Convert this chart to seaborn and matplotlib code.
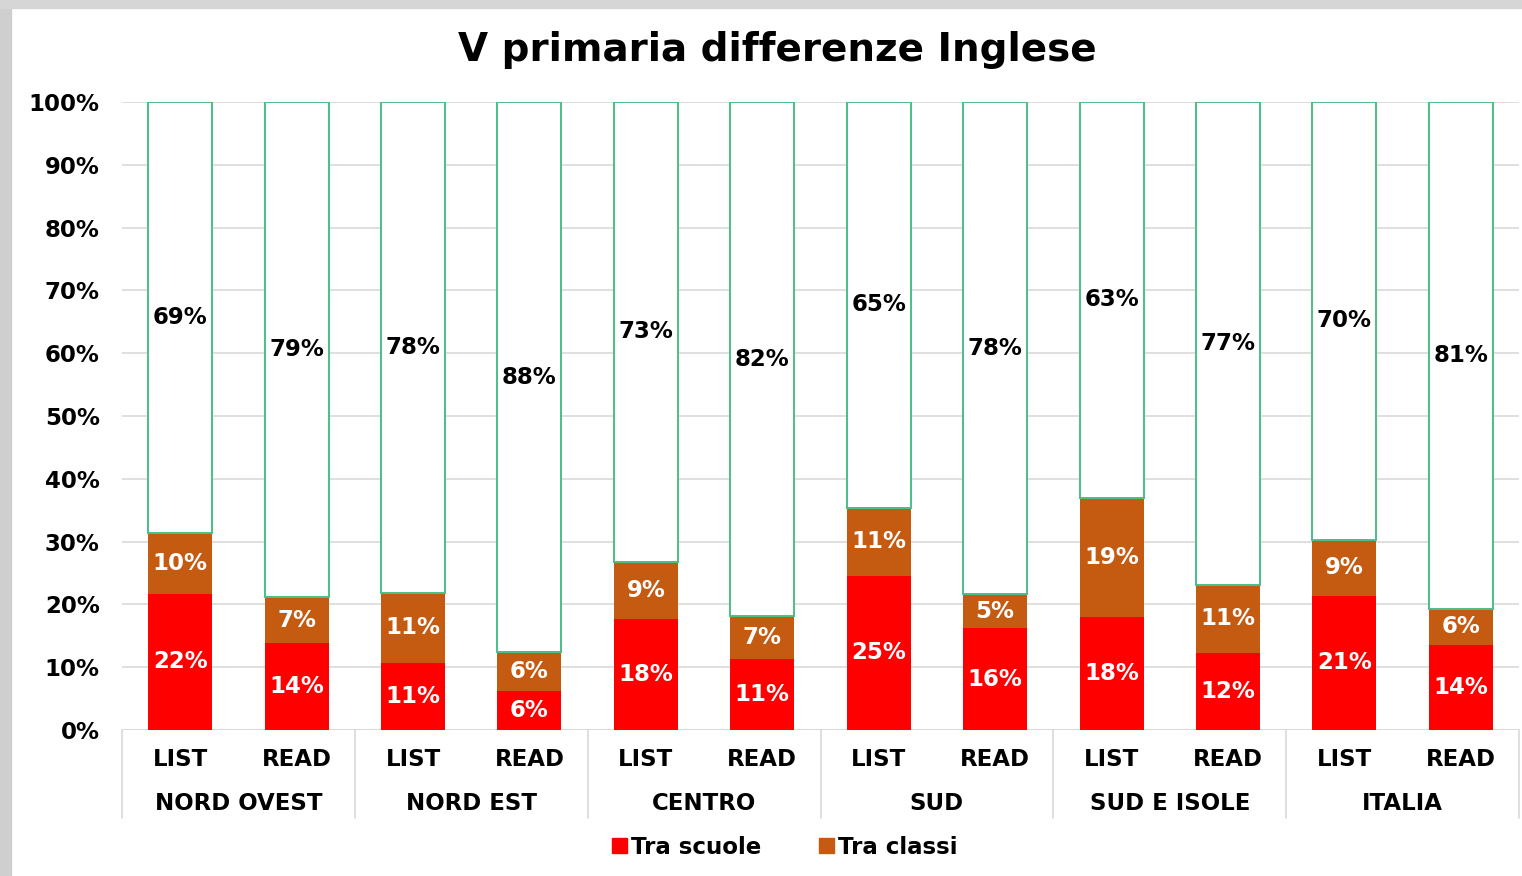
import numpy as np
import pandas as pd
import matplotlib
matplotlib.use("Agg")
import matplotlib.pyplot as plt
from matplotlib.patches import Patch, Rectangle
import seaborn as sns

# Data (% of variance)
regions = ["NORD OVEST", "NORD EST", "CENTRO", "SUD", "SUD E ISOLE", "ITALIA"]
tests = ["LIST", "READ"]
tra_scuole = [21.7, 13.9, 10.7, 6.2, 17.6, 11.3, 24.6, 16.2, 18.0, 12.3, 21.4, 13.6]
tra_classi = [9.6, 7.2, 11.1, 6.2, 9.2, 6.8, 10.8, 5.4, 19.0, 10.8, 8.9, 5.7]

keys = [f"{r}|{t}" for r in regions for t in tests]
base = np.array(tra_scuole)
mid = np.array(tra_classi)
dentro = 100 - base - mid

df = pd.DataFrame({"key": keys, "scuole": base, "classi": mid, "dentro": dentro})

sns.set_style("white")
plt.rcParams["font.family"] = ["DejaVu Sans"]
plt.rcParams["font.weight"] = "bold"
plt.rcParams["text.color"] = "black"
plt.rcParams["ytick.color"] = "black"
plt.rcParams["ytick.labelcolor"] = "black"

RED = "#FF0000"
BROWN = "#C55A11"
GREEN = "#4CBF86"
GRID = "#D9D9D9"

fig, ax = plt.subplots(figsize=(15.22, 8.76), dpi=100)
fig.subplots_adjust(left=122 / 1522, right=1519 / 1522, top=1 - 102 / 876, bottom=1 - 730 / 876)

# stacked bars
sns.barplot(data=df, x="key", y="scuole", order=keys, color=RED, saturation=1,
            width=0.55, errorbar=None, linewidth=0, ax=ax, zorder=3)
sns.barplot(data=df, x="key", y="classi", order=keys, color=BROWN, saturation=1,
            width=0.55, errorbar=None, linewidth=0, bottom=base, ax=ax, zorder=3)
sns.barplot(data=df, x="key", y="dentro", order=keys, color="white", saturation=1,
            width=0.55, errorbar=None, edgecolor=GREEN, linewidth=1.4,
            bottom=base + mid, ax=ax, zorder=3)

label_kw = dict(label_type="center", fontsize=16.5, fontweight="bold")
ax.bar_label(ax.containers[0], labels=[f"{v:.0f}%" for v in base], color="white", **label_kw)
ax.bar_label(ax.containers[1], labels=[f"{v:.0f}%" for v in mid], color="white", **label_kw)
ax.bar_label(ax.containers[2], labels=[f"{v:.0f}%" for v in dentro], color="black", **label_kw)

# axes styling
ax.set_ylim(0, 100)
ax.set_xlim(-0.5, len(keys) - 0.5)
ax.set_yticks(range(0, 101, 10))
ax.set_yticklabels([f"{v}%" for v in range(0, 101, 10)], fontsize=16.5, fontweight="bold", color="black")
ax.tick_params(axis="y", length=0, pad=16)
ax.yaxis.grid(True, color=GRID, linewidth=1.2, zorder=0)
ax.set_axisbelow(True)
for s in ax.spines.values():
    s.set_visible(False)
ax.set_xticks([])
ax.set_xlabel("")
ax.set_ylabel("")

# two-level category axis
tr = ax.get_xaxis_transform()
ax.axhline(0, color=GRID, linewidth=1.2, zorder=1)
for i, k in enumerate(keys):
    ax.text(i, -30 / 628, k.split("|")[1], transform=tr, ha="center", va="center",
            fontsize=16.5, fontweight="bold", color="black")
for j, r in enumerate(regions):
    ax.text(2 * j + 0.5, -73 / 628, r, transform=tr, ha="center", va="center",
            fontsize=16.5, fontweight="bold", color="black")
for x in np.arange(-0.5, len(keys), 2):
    ax.plot([x, x], [0, -88 / 628], transform=tr, color=GRID, linewidth=1.2, clip_on=False)

# title and legend
fig.text(777 / 1522, 1 - 50 / 876, "V primaria differenze Inglese", ha="center", va="center",
         fontsize=28, fontweight="bold", color="black")
handles = [Patch(color=RED, label="Tra scuole"), Patch(color=BROWN, label="Tra classi")]
fig.legend(handles=handles, loc="center", bbox_to_anchor=(785 / 1522, 1 - 847 / 876), ncol=2,
           frameon=False, fontsize=16.5, handlelength=0.65, handleheight=0.65,
           handletextpad=0.2, columnspacing=2.5, labelcolor="black")

# grey edges of the photographed slide
fig.patches.append(Rectangle((0, 0), 11 / 1522, 1, transform=fig.transFigure, color="#CFCFCF", zorder=-1))
fig.patches.append(Rectangle((0, 1 - 8 / 876), 1, 8 / 876, transform=fig.transFigure, color="#D6D6D6", zorder=-1))

fig.savefig("out.png", dpi=100)
